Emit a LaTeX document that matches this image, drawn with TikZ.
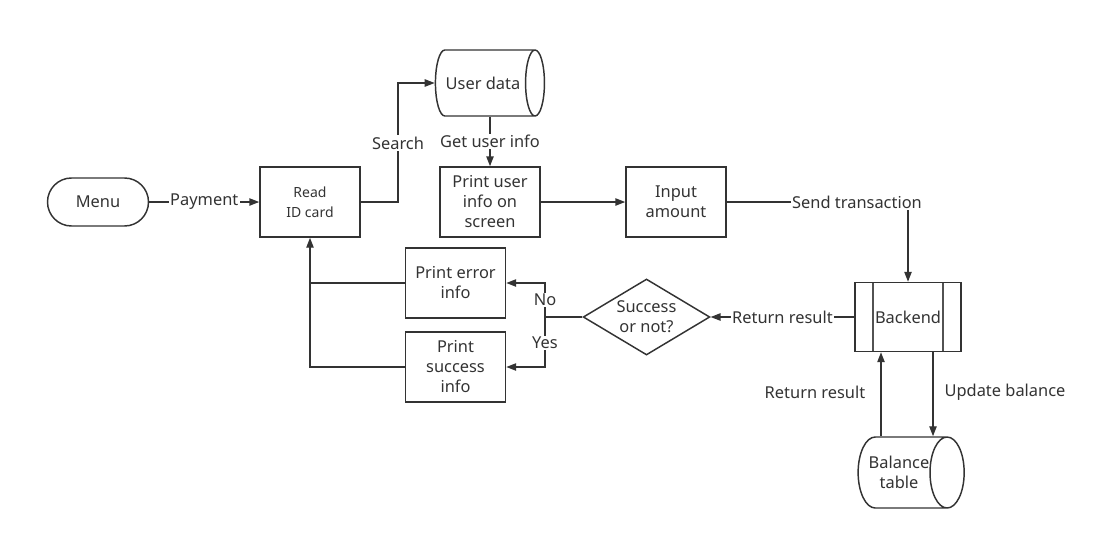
\documentclass[tikz,border=0pt]{standalone}
\usepackage{fontspec}
\setmainfont{Noto Sans}
\usetikzlibrary{arrows.meta,calc,positioning,shapes.geometric}
\definecolor{LineDark}{HTML}{333333}

\tikzset{
  base/.style={draw=LineDark, line width=1.1pt, text=LineDark,
    font=\fontsize{12.3}{15}\selectfont, align=center},
  stepbox/.style={base, rectangle, minimum width=75pt, minimum height=52.5pt, inner sep=2pt},
  terminal/.style={base, rectangle, rounded corners=18pt,
    minimum width=75.75pt, minimum height=36pt},
  decision/.style={base, diamond, aspect=1.67, inner sep=0pt,
    minimum width=95pt, minimum height=57pt},
  database/.style={base, cylinder, aspect=1.05, inner sep=2pt},
  subproc/.style={stepbox, minimum width=79.5pt, minimum height=51.75pt,
    path picture={
      \draw[LineDark!85, line width=0.8pt]
        ([xshift=13.5pt]path picture bounding box.north west)
          -- ([xshift=13.5pt]path picture bounding box.south west)
        ([xshift=-13.5pt]path picture bounding box.north east)
          -- ([xshift=-13.5pt]path picture bounding box.south east);}},
  plain/.style={draw=LineDark, line width=1.1pt},
  flow/.style={plain, -{Triangle[length=7.5pt,width=5.5pt]}},
  tag/.style={fill=white, text=LineDark, font=\fontsize{12.3}{15}\selectfont, inner sep=1pt},
  note/.style={text=LineDark, font=\fontsize{12.3}{15}\selectfont, inner sep=1pt},
}

\begin{document}
\begin{tikzpicture}[x=0.75pt, y=-0.75pt]
  \useasboundingbox (0,0) rectangle (1118,540);

  % nodes
  \node[terminal] (menu) at (98,202) {Menu};
  \node[stepbox, font=\fontsize{10.5}{15}\selectfont] (read) at (310,202) {Read\\ID card};
  \node[database, minimum height=81.75pt, minimum width=49.5pt] (userdata) at (483,83) {User data};
  \node[stepbox] (printuser) at (490,202) {Print user\\info on\\screen};
  \node[stepbox] (input) at (676,202) {Input\\amount};
  \node[subproc] (backend) at (908,317) {Backend};
  \node[decision] (check) at (646.5,317) {Success\\or not?};
  \node[stepbox] (perror) at (455.5,283) {Print error\\info};
  \node[stepbox] (psuccess) at (455.5,367) {Print\\success\\info};
  \node[database, aspect=0.9, inner xsep=0pt, minimum height=73.5pt, minimum width=53.25pt] (balance) at (899,472.5) {Balance\\table};

  % connectors
  \draw[flow] (menu.east) -- node[tag] {Payment} (read.west);
  \draw[flow] (read.east) -- (398,202) |- (userdata.west);
  \node[tag] (searchtag) at (398,143) {Search};
  \draw[flow] (printuser.north |- userdata.south) -- node[tag] {Get user info} (printuser.north);
  \draw[flow] (printuser.east) -- (input.west);
  \draw[flow] (input.east) -| (backend.north);
  \node[tag] (sendtag) at (857,202) {Send transaction};
  \draw[flow] (backend.west) -- node[tag] {Return result} (check.east);

  \coordinate (split) at (545,317);
  \draw[plain] (check.west) -- (split);
  \draw[flow] (split) |- (perror.east);
  \draw[flow] (split) |- (psuccess.east);
  \node[tag] (notag) at (545,300) {No};
  \node[tag] (yestag) at (545,343) {Yes};

  \draw[plain] (perror.west) -- (perror.west -| read.south);
  \draw[flow] (psuccess.west) -| (read.south);

  \coordinate (upline) at ([xshift=-20.25pt]backend.south);
  \coordinate (downline) at ([xshift=18.75pt]backend.south);
  \draw[flow] (upline |- balance.north) -- (upline);
  \draw[flow] (downline) -- (downline |- balance.north);
  \node[note] (backtag) at (815,392) {Return result};
  \node[note] (updatetag) at (1005,392) {Update balance};
\end{tikzpicture}
\end{document}
